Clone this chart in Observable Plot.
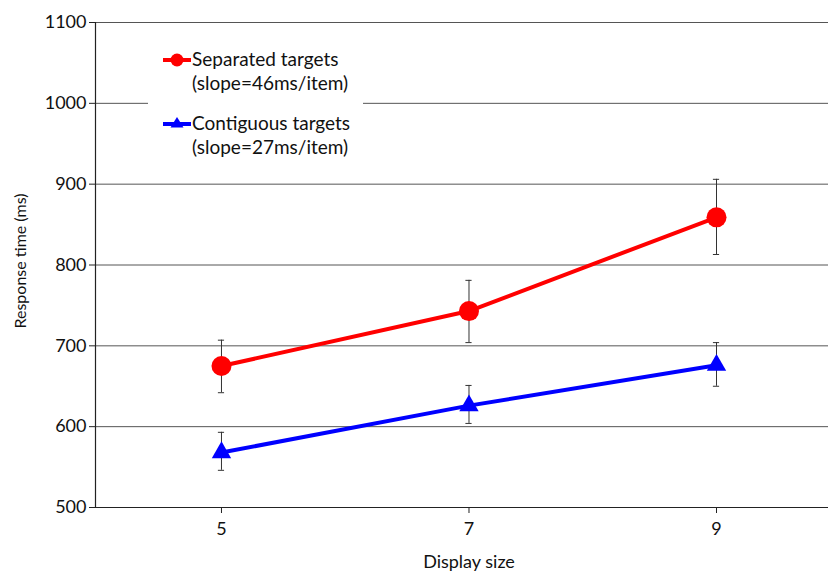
<!DOCTYPE html>
<html>
<head>
<meta charset="utf-8">
<script src="https://cdn.jsdelivr.net/npm/d3@7"></script>
<script src="https://cdn.jsdelivr.net/npm/@observablehq/plot@0.6"></script>
<style>
  html, body { margin: 0; padding: 0; background: #fff; }
  #wrap { position: relative; width: 828px; height: 571px; font-family: Lato, "Open Sans", sans-serif; }
  #legend { position: absolute; left: 148px; top: 38px; width: 215px; height: 128px; background: #fff; }
  .item { position: absolute; left: 14px; display: flex; align-items: flex-start; font-size: 19px; line-height: 23.5px; color: #111; }
  .item svg { flex: none; margin-top: 3px; }
</style>
</head>
<body>
<div id="wrap"></div>
<script>
// Display sizes (items on screen)
const displaySizes = [5, 7, 9];

// Mean response times (ms) and error bar bounds per condition
const separatedRT = [675, 743, 859];
const separatedLow = [642, 704, 813];
const separatedHigh = [707, 781, 906];

const contiguousRT = [568, 626, 676];
const contiguousLow = [546, 604, 650];
const contiguousHigh = [593, 651, 704];

const seriesNames = ["Separated targets", "Contiguous targets"];
const slopeLabels = ["(slope=46ms/item)", "(slope=27ms/item)"];
const seriesColors = ["#ff0000", "#0000ff"];
const yTicks = [500, 600, 700, 800, 900, 1000, 1100];

const rows = [];
displaySizes.forEach((x, i) => {
  rows.push({series: seriesNames[0], x, y: separatedRT[i], lo: separatedLow[i], hi: separatedHigh[i]});
  rows.push({series: seriesNames[1], x, y: contiguousRT[i], lo: contiguousLow[i], hi: contiguousHigh[i]});
});
const sep = rows.filter(d => d.series === seriesNames[0]);
const con = rows.filter(d => d.series === seriesNames[1]);
const capHalf = 0.025;

const chart = Plot.plot({
  width: 828,
  height: 571,
  marginLeft: 95,
  marginRight: 0,
  marginTop: 22,
  marginBottom: 64,
  style: {fontFamily: "Lato, 'Open Sans', sans-serif", fontSize: "18px", color: "#111", background: "#fff"},
  x: {domain: [3.982, 9.905]},
  y: {domain: [500, 1100]},
  marks: [
    Plot.gridY(yTicks.slice(1), {stroke: "#555", strokeOpacity: 1, strokeWidth: 1}),
    Plot.ruleY([500], {stroke: "#222", strokeWidth: 1.2}),
    Plot.ruleX([3.982], {stroke: "#222", strokeWidth: 1.2}),
    Plot.axisY({ticks: yTicks, tickSize: 6, tickPadding: 3, tickFormat: d => String(d), stroke: "#222", fill: "#111", label: null, fontSize: 18}),
    Plot.axisX({ticks: displaySizes, tickSize: 6, tickPadding: 9, tickFormat: d => String(d), stroke: "#222", fill: "#111", label: null, fontSize: 18}),
    // error bars with caps
    Plot.ruleX(rows, {x: "x", y1: "lo", y2: "hi", stroke: "#333", strokeWidth: 1}),
    Plot.ruleY(rows, {y: "lo", x1: d => d.x - capHalf, x2: d => d.x + capHalf, stroke: "#333", strokeWidth: 1}),
    Plot.ruleY(rows, {y: "hi", x1: d => d.x - capHalf, x2: d => d.x + capHalf, stroke: "#333", strokeWidth: 1}),
    // series lines
    Plot.line(sep, {x: "x", y: "y", stroke: seriesColors[0], strokeWidth: 4}),
    Plot.line(con, {x: "x", y: "y", stroke: seriesColors[1], strokeWidth: 4}),
    Plot.dot(sep, {x: "x", y: "y", r: 10, fill: seriesColors[0], stroke: "none"}),
    Plot.dot(con, {x: "x", y: "y", r: 7.2, symbol: "triangle", fill: seriesColors[1], stroke: "none"}),
    // axis titles
    Plot.text(["Response time (ms)"], {frameAnchor: "left", textAnchor: "middle", rotate: -90, dx: -75, dy: -4, fontSize: 16, fill: "#111"}),
    Plot.text(["Display size"], {frameAnchor: "bottom", textAnchor: "middle", dy: 60, dx: 7, fontSize: 18, fill: "#111"})
  ]
});

const wrap = document.getElementById("wrap");
wrap.appendChild(chart);

// legend overlaid inside the plotting area
const legend = document.createElement("div");
legend.id = "legend";
const glyphs = [
  `<svg width="30" height="20"><line x1="1" x2="29" y1="10" y2="10" stroke="${seriesColors[0]}" stroke-width="4"/><circle cx="15" cy="10" r="6.5" fill="${seriesColors[0]}"/></svg>`,
  `<svg width="30" height="20"><line x1="1" x2="29" y1="10" y2="10" stroke="${seriesColors[1]}" stroke-width="4"/><path d="M15,3 L21.5,13.5 L8.5,13.5 Z" fill="${seriesColors[1]}"/></svg>`
];
seriesNames.forEach((name, i) => {
  const item = document.createElement("div");
  item.className = "item";
  item.style.top = (9 + i * 64) + "px";
  item.innerHTML = glyphs[i] + `<div>${name}<br>${slopeLabels[i]}</div>`;
  legend.appendChild(item);
});
wrap.appendChild(legend);
</script>
</body>
</html>
